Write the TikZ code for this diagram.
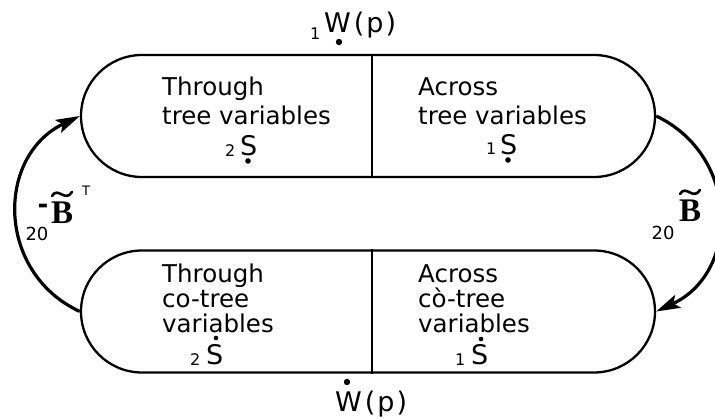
\documentclass[tikz,border=0pt]{standalone}
\usepackage{fontspec}
\setmainfont{DejaVu Sans}
\newfontfamily\bserif{Liberation Serif}
\usetikzlibrary{shapes.misc,arrows.meta}
\begin{document}
\begin{tikzpicture}[x=1pt,y=-1pt,
  stadium/.style={rounded rectangle, draw, line width=2.3pt, minimum width=574pt, minimum height=122pt, inner sep=0pt},
  lbl/.style={anchor=base west, inner sep=0pt, font=\fontsize{24.5}{24.5}\selectfont},
  sym/.style={anchor=base west, inner sep=0pt, font=\fontsize{27}{27}\selectfont},
  sub/.style={anchor=base west, inner sep=0pt, font=\fontsize{16}{16}\selectfont},
  wlbl/.style={anchor=base west, inner sep=0pt, font=\fontsize{27}{27}\selectfont},
  bsym/.style={anchor=base west, inner sep=0pt, font=\bserif\bfseries\fontsize{33}{33}\selectfont},
  tildemark/.style={line width=2.6pt, line cap=round},
  conn/.style={line width=3.2pt, -{Stealth[length=24pt,width=14pt,inset=5pt]}},
  dotmark/.style={fill=black}
]
\useasboundingbox (0,0) rectangle (715,419);

% stadium boxes
\node[stadium] (ttop) at (368,116) {};
\node[stadium] (tbot) at (368,311.5) {};
\draw[line width=2.3pt] ([xshift=4pt]ttop.north) -- ([xshift=4pt]ttop.south);
\draw[line width=2.3pt] ([xshift=4pt]tbot.north) -- ([xshift=4pt]tbot.south);

% connectors
\draw[conn] (tbot.west) .. controls +(-84,-39) and +(-84,40) .. (ttop.west);
\draw[conn] (ttop.east) .. controls +(84,40) and +(84,-39) .. (tbot.east);

% top W(p)
\node[sub] (w1) at (310,40) {1};
\node[wlbl] (wtop) at (324,33) {W\kern3pt(\kern2pt p\kern2pt)};
\fill[dotmark] (339,42) circle (3.2pt);

% bottom W(p)
\node[wlbl] (wbot) at (335,412) {W\kern3pt(\kern2pt p\kern2pt)};
\fill[dotmark] (347,382) circle (3.2pt);

% top-left
\node[lbl] (tl1) at (162,96) {Through};
\node[lbl] (tl2) at (162,125) {tree variables};
\node[sub] (tl3) at (225,157) {2};
\node[sym] (tlS) at (240,156) {S};
\fill[dotmark] (248,161) circle (2.8pt);

% top-right
\node[lbl] (tr1) at (418,96) {Across};
\node[lbl] (tr2) at (418,125) {tree variables};
\node[sub] (tr3) at (486,155) {1};
\node[sym] (trS) at (500,155) {S};
\fill[dotmark] (508,160) circle (2.8pt);

% bottom-left
\node[lbl] (bl1) at (162,283) {Through};
\node[lbl] (bl2) at (162,308) {co-tree};
\node[lbl] (bl3) at (162,333) {variables};
\node[sub] (bl4) at (190,366) {2};
\node[sym] (blS) at (206,365) {S};
\fill[dotmark] (216,338) circle (2.3pt);

% bottom-right
\node[lbl] (br1) at (418,283) {Across};
\node[lbl] (br2) at (418,308) {cò-tree};
\node[lbl] (br3) at (418,333) {variables};
\node[sub] (br4) at (455,366) {1};
\node[sym] (brS) at (471,365) {S};
\fill[dotmark] (481,339) circle (2.3pt);

% left label
\node[inner sep=0pt, font=\fontsize{26}{26}\selectfont\bfseries] (lm) at (43,209) {-};
\node[bsym] (lB) at (51,224) {B};
\draw[tildemark] (52,196) .. controls (58,186) and (65,203) .. (72,192);
\node[inner sep=0pt, font=\fontsize{13}{13}\selectfont] (lT) at (86,191) {T};
\node[inner sep=0pt, font=\fontsize{18}{18}\selectfont] (l20) at (37,234) {20};

% right label
\node[inner sep=0pt, font=\fontsize{18}{18}\selectfont] (r20) at (663,233) {20};
\node[bsym] (rB) at (679,222) {B};
\draw[tildemark] (680,194) .. controls (686,184) and (693,201) .. (700,190);
\end{tikzpicture}
\end{document}
